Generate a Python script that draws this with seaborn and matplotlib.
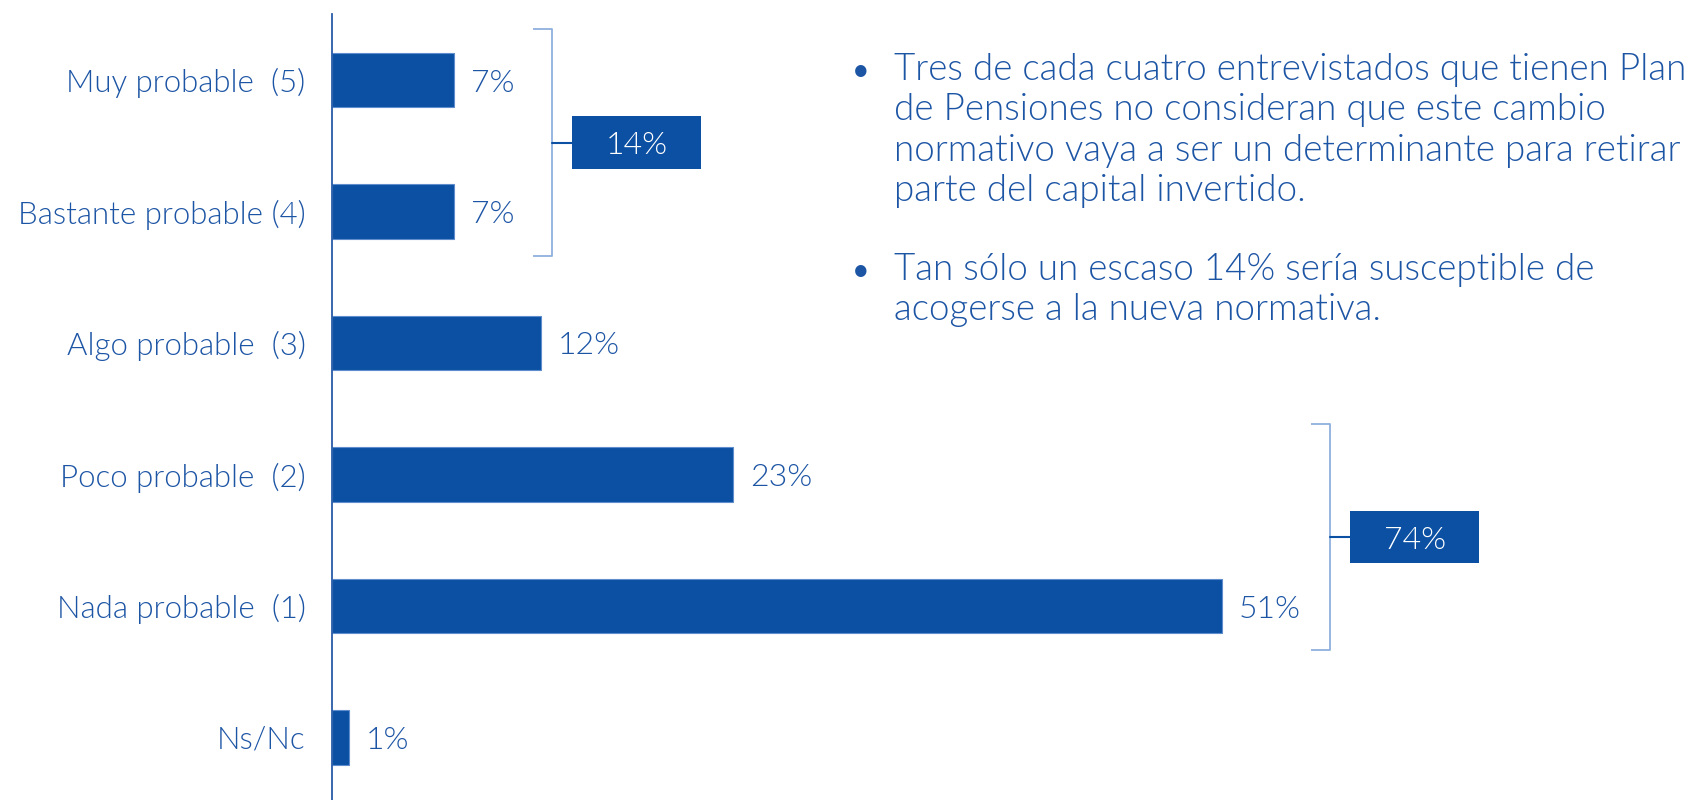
import matplotlib
matplotlib.use("Agg")
import matplotlib.pyplot as plt
from matplotlib.patches import Rectangle
import seaborn as sns

# --- data -------------------------------------------------------------
categories = [
    "Muy probable  (5)",
    "Bastante probable (4)",
    "Algo probable  (3)",
    "Poco probable  (2)",
    "Nada probable  (1)",
    "Ns/Nc",
]
values = [7, 7, 12, 23, 51, 1]

# groups of categories that are summed in the side boxes
groups = [[0, 1], [3, 4]]

bullets = [
    "Tres de cada cuatro entrevistados que tienen Plan\n"
    "de Pensiones no consideran que este cambio\n"
    "normativo vaya a ser un determinante para retirar\n"
    "parte del capital invertido.",
    "Tan sólo un escaso 14% sería susceptible de\n"
    "acogerse a la nueva normativa.",
]

# --- style ------------------------------------------------------------
BLUE = "#0b50a3"
TEXT = "#1d55a5"
LIGHT = "#8fb0de"

sns.set_theme(style="white")
plt.rcParams["font.family"] = ["Lato", "DejaVu Sans"]
plt.rcParams["font.weight"] = 300

W, H = 1699, 800
fig = plt.figure(figsize=(W / 100, H / 100), dpi=100)
fig.patch.set_facecolor("white")

# axes: left spine at x=332px, category pitch 131.5 px
left = 332 / W
top_px = 14.25
bot_px = 80 + 5.5 * 131.5
ax = fig.add_axes([left, (H - bot_px) / H, 1 - left, (bot_px - top_px) / H])

sns.barplot(x=values, y=categories, orient="h", color=BLUE, saturation=1,
            width=0.415, edgecolor="#5f8ccc", linewidth=0.8, ax=ax)

ax.set_xlim(0, (W - 332) / 17.45)
ax.set_ylim(5.5, -0.5)
ax.set_xlabel("")
ax.set_ylabel("")

for side in ["top", "right", "bottom"]:
    ax.spines[side].set_visible(False)
ax.spines["left"].set_color("#2a5ca8")
ax.spines["left"].set_linewidth(1.3)
ax.xaxis.set_visible(False)

ax.set_yticks(range(len(categories)))
ax.set_yticks([i - 0.5 for i in range(len(categories) + 1)], minor=True)
ax.tick_params(axis="y", which="major", length=0, pad=19, labelsize=22.5, labelcolor=TEXT)
ax.tick_params(axis="y", which="minor", length=6.5, width=1.2, color=LIGHT)
for lbl in ax.get_yticklabels():
    lbl.set_verticalalignment("center_baseline")

# value labels taken from the bars themselves
container = ax.containers[0]
value_texts = ax.bar_label(container, labels=[f"{v}%" for v in values], padding=12,
                           fontsize=23, color=TEXT)
for t in value_texts:
    t.set_verticalalignment("center_baseline")

# brackets with summary boxes
bracket_gap = [5.6, 6.2]
for grp, gap in zip(groups, bracket_gap):
    total = sum(values[i] for i in grp)
    y0 = grp[0] - 0.386
    y1 = grp[-1] + 0.338
    ym = (y0 + y1) / 2
    bx = max(values[i] for i in grp) + gap
    ax.plot([bx - 1.07, bx, bx, bx - 1.07], [y0, y0, y1, y1],
            color=LIGHT, lw=1.3, solid_capstyle="butt", clip_on=False)
    ax.plot([bx, bx + 1.15], [ym, ym], color=BLUE, lw=1.5, clip_on=False)
    bw, bh = 7.4, 0.4
    ax.add_patch(Rectangle((bx + 1.15, ym - bh / 2), bw, bh, facecolor=BLUE,
                           edgecolor="none", clip_on=False))
    ax.text(bx + 1.15 + bw / 2, ym, f"{total}%", color="white", fontsize=23,
            ha="center", va="center_baseline")

# bullet notes on the right
text_y = [53 / H, 253 / H]
for para, ty in zip(bullets, text_y):
    fig.text(861 / W, 1 - ty - 4 / H, "•", fontsize=22, color=TEXT, ha="center",
             va="top", weight="normal")
    fig.text(894 / W, 1 - ty, para, fontsize=26.5, color=TEXT, ha="left",
             va="top", linespacing=1.24)

fig.savefig("out.png", dpi=100, facecolor="white")
